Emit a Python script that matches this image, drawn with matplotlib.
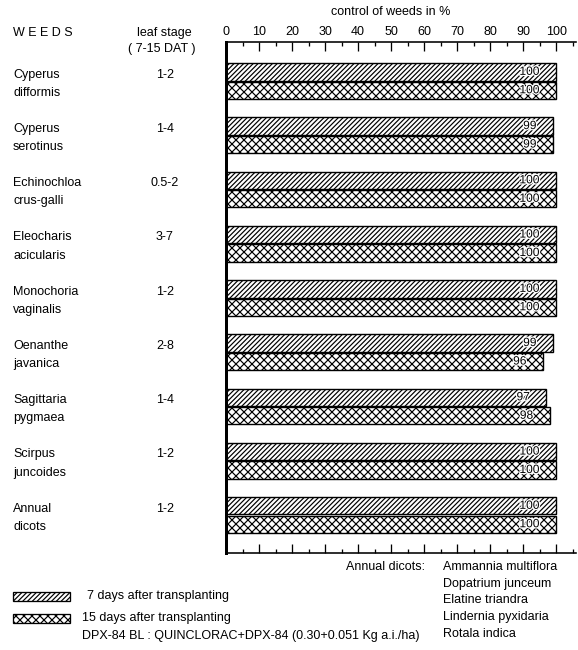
import matplotlib
matplotlib.use("Agg")
import matplotlib.pyplot as plt
import matplotlib.patheffects as pe
from matplotlib.patches import Rectangle
from matplotlib.transforms import blended_transform_factory
import numpy as np

plt.rcParams['font.family'] = ['Liberation Sans Narrow', 'Liberation Sans', 'DejaVu Sans']
plt.rcParams['hatch.linewidth'] = 1.2

weeds = [("Cyperus", "difformis"), ("Cyperus", "serotinus"),
         ("Echinochloa", "crus-galli"), ("Eleocharis", "acicularis"),
         ("Monochoria", "vaginalis"), ("Oenanthe", "javanica"),
         ("Sagittaria", "pygmaea"), ("Scirpus", "juncoides"),
         ("Annual", "dicots")]
leaf_stage = ["1-2", "1-4", "0.5-2", "3-7", "1-2", "2-8", "1-4", "1-2", "1-2"]
days7 = [100, 99, 100, 100, 100, 99, 97, 100, 100]
days15 = [100, 99, 100, 100, 100, 96, 98, 100, 100]
dicots = ["Ammannia multiflora", "Dopatrium junceum", "Elatine triandra",
          "Lindernia pyxidaria", "Rotala indica"]

W, H = 578, 650
fig = plt.figure(figsize=(W / 72, H / 72), dpi=72)
ax = fig.add_axes([226 / W, 1 - 553 / H, 350 / W, 511 / H])

fs = 12.5
y = np.arange(len(weeds))
bh = 0.32
ax.barh(y - 0.17, days7, height=bh, color='white', edgecolor='black',
        linewidth=1.4, hatch='/////')
ax.barh(y + 0.17, days15, height=bh, color='white', edgecolor='black',
        linewidth=1.4, hatch='xxx')
halo = [pe.withStroke(linewidth=2.5, foreground='white')]
for i in range(len(weeds)):
    for off, v in ((-0.17, days7[i]), (0.17, days15[i])):
        ax.text(v - 5, y[i] + off, str(v), ha='right', va='center',
                fontsize=12, path_effects=halo)

ax.set_xlim(0, 106)
ax.set_ylim(8.70, -0.72)
ax.set_yticks([])
ax.set_xticks(np.arange(0, 101, 10))
ax.set_xticks(np.arange(0, 106, 5), minor=True)
ax.xaxis.set_ticks_position('both')
ax.tick_params(axis='x', which='major', direction='in', length=9, width=1.3,
               labeltop=True, labelbottom=False, labelsize=fs, pad=4)
ax.tick_params(axis='x', which='minor', direction='in', length=4, width=1.3)
ax.spines['right'].set_visible(False)
ax.spines['left'].set_linewidth(3)
ax.spines['top'].set_linewidth(1.6)
ax.spines['bottom'].set_linewidth(1.6)

fig.text(391 / W, 1 - 12 / H, "control of weeds in %", ha='center',
         va='center', fontsize=fs)
fig.text(13 / W, 1 - 33 / H, "W E E D S", ha='left', va='center', fontsize=fs)
fig.text(164 / W, 1 - 33 / H, "leaf stage", ha='center', va='center', fontsize=fs)
fig.text(162 / W, 1 - 49 / H, "( 7-15 DAT )", ha='center', va='center', fontsize=fs)

# weed names and leaf stages, placed on the group rows
tr = blended_transform_factory(fig.transFigure, ax.transData)
for i, (a, b) in enumerate(weeds):
    ax.text(13 / W, i - 0.12, a, transform=tr, ha='left', va='center', fontsize=fs)
    ax.text(13 / W, i + 0.22, b, transform=tr, ha='left', va='center', fontsize=fs)
    ax.text(165 / W, i - 0.12, leaf_stage[i], transform=tr, ha='center',
            va='center', fontsize=fs)

# legend swatches
fig.add_artist(Rectangle((13 / W, 1 - 601 / H), 57 / W, 9 / H,
                         transform=fig.transFigure, fc='white', ec='black',
                         lw=1.3, hatch='/////'))
fig.add_artist(Rectangle((13 / W, 1 - 623 / H), 57 / W, 9 / H,
                         transform=fig.transFigure, fc='white', ec='black',
                         lw=1.3, hatch='xxx'))
fig.text(87 / W, 1 - 596 / H, "7 days after transplanting", ha='left',
         va='center', fontsize=fs)
fig.text(82 / W, 1 - 618 / H, "15 days after transplanting", ha='left',
         va='center', fontsize=fs)
fig.text(82 / W, 1 - 636 / H,
         "DPX-84 BL : QUINCLORAC+DPX-84 (0.30+0.051 Kg a.i./ha)",
         ha='left', va='center', fontsize=fs)

fig.text(425 / W, 1 - 567 / H, "Annual dicots:", ha='right', va='center', fontsize=fs)
for k, name in enumerate(dicots):
    fig.text(443 / W, 1 - (567 + 16.7 * k) / H, name, ha='left',
             va='center', fontsize=fs)

fig.savefig("out.png", dpi=72, facecolor='white')
